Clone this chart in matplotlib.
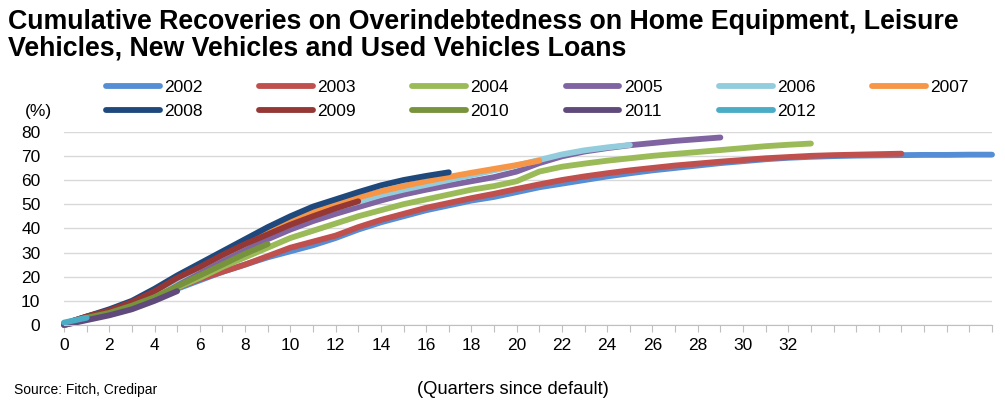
import matplotlib
matplotlib.use("Agg")
import matplotlib.pyplot as plt

plt.rcParams["font.family"] = ["Liberation Sans", "DejaVu Sans"]

# cumulative recoveries (%) by quarter since default, one list per vintage
y2002 = [0, 2.5, 5, 8, 11.5, 15, 18.5, 22, 25, 28, 30.5, 33, 36, 39.5, 42.5, 45, 47.5, 49.5, 51.5, 53,
         55, 57, 58.5, 60, 61.5, 62.8, 64, 65, 66, 67, 67.8, 68.6, 69.2, 69.6, 69.9, 70.1, 70.2, 70.3,
         70.4, 70.4, 70.5, 70.5]
y2003 = [0, 2.5, 5.5, 8.5, 12, 15.5, 19, 22, 25, 28.5, 32, 34.5, 37, 40.5, 43.5, 46, 48.5, 50.5, 52.5,
         54.3, 56.3, 58.2, 60, 61.5, 62.8, 64, 65, 66, 66.8, 67.6, 68.3, 69, 69.5, 70, 70.3, 70.5, 70.7, 70.9]
y2004 = [0, 2.5, 5, 8, 11.5, 15.5, 19.5, 24, 28, 32, 36, 39, 42, 45, 47.5, 50, 52, 54, 56, 57.5, 59.5,
         63.5, 65.5, 66.8, 68, 69, 70, 70.8, 71.6, 72.4, 73.2, 74, 74.6, 75.1]
y2005 = [0.5, 3, 5.5, 9, 13, 18, 22.5, 27, 31.5, 35.5, 39.5, 43, 46, 48.8, 51.5, 54, 56, 57.8, 59.5,
         61.2, 63.5, 67, 69.8, 71.8, 73.2, 74.4, 75.3, 76.2, 76.9, 77.6]
y2006 = [0.5, 3, 5.5, 9, 13.5, 19, 24, 29, 33.5, 38, 42, 45.5, 48.5, 51, 53.8, 56, 58, 60, 62, 64, 66,
         68.3, 70.6, 72.3, 73.5, 74.5]
y2007 = [0.5, 3.5, 6, 9.5, 14, 20, 25, 30, 35, 39.5, 43.5, 47, 50, 52.8, 55.3, 57.5, 59.5, 61.3, 63,
         64.6, 66.2, 68]
y2008 = [0.5, 3.5, 6.5, 10, 15, 20.5, 25.5, 30.5, 35.5, 40.5, 45, 49, 52, 55, 57.8, 60, 61.7, 63.2]
y2009 = [0.5, 3.5, 6, 9.5, 14, 19.5, 24, 29, 33.5, 37.5, 41.5, 45, 48.3, 51.2]
y2010 = [0.5, 3, 5, 8, 11.5, 16, 20.5, 25, 29.5, 33.5]
y2011 = [0, 2, 4, 6.5, 10, 14]
y2012 = [1, 3]

years = ["2002", "2003", "2004", "2005", "2006", "2007", "2008", "2009", "2010", "2011", "2012"]
series = [y2002, y2003, y2004, y2005, y2006, y2007, y2008, y2009, y2010, y2011, y2012]
colors = ["#558ED5", "#C0504D", "#9BBB59", "#8064A2", "#93CDDD", "#F79646",
          "#1F497D", "#953735", "#77933C", "#604A7B", "#4BACC6"]

n_quarters = 42
tick_labels = [str(q) if q % 2 == 0 and q <= 32 else "" for q in range(n_quarters)]

fig = plt.figure(figsize=(10.05, 4.01), dpi=100)
ax = fig.add_axes([64 / 1005, 1 - 325 / 401, (992 - 64) / 1005, (325 - 131.7) / 401])

handles = {}
for year, vals, col in zip(years, series, colors):
    ln, = ax.plot(range(len(vals)), vals, color=col, lw=4.2,
                  solid_capstyle="round", solid_joinstyle="round", clip_on=False)
    handles[year] = ln

ax.set_xlim(0, n_quarters - 1)
ax.set_ylim(0, 80)
ax.set_yticks(range(0, 81, 10))
ax.set_xticks(range(n_quarters))
ax.set_xticklabels(tick_labels)
ax.yaxis.grid(True, color="#D9D9D9", lw=1)
ax.set_axisbelow(True)
for s in ["top", "right", "left"]:
    ax.spines[s].set_visible(False)
ax.spines["bottom"].set_color("#BFBFBF")
ax.tick_params(axis="x", length=5, color="#BFBFBF", labelsize=12.5, pad=4)
ax.tick_params(axis="y", length=0, labelsize=12.5, pad=17)

fig.text(25 / 1005, 1 - 111.7 / 401, "(%)", fontsize=12.5, va="center", ha="left")

title = ("Cumulative Recoveries on Overindebtedness on Home Equipment, Leisure\n"
         "Vehicles, New Vehicles and Used Vehicles Loans")
fig.text(8 / 1005, 1 - 9 / 401, title, fontsize=19.3, fontweight="bold",
         va="top", ha="left", linespacing=1.05)

order = ["2002", "2008", "2003", "2009", "2004", "2010", "2005", "2011", "2006", "2012", "2007"]
fig.legend([handles[y] for y in order], order, ncol=6, loc="upper left",
           bbox_to_anchor=(106 / 1005, 1 - 80 / 401), frameon=False, fontsize=12.5,
           handlelength=3.1, handletextpad=0.25, columnspacing=3.25,
           labelspacing=0.5, borderpad=0, borderaxespad=0)

fig.text(14 / 1005, 1 - 390 / 401, "Source: Fitch, Credipar", fontsize=10, va="center", ha="left")
fig.text(513 / 1005, 1 - 390 / 401, "(Quarters since default)", fontsize=13.2, va="center", ha="center")

fig.savefig("out.png", dpi=100)
